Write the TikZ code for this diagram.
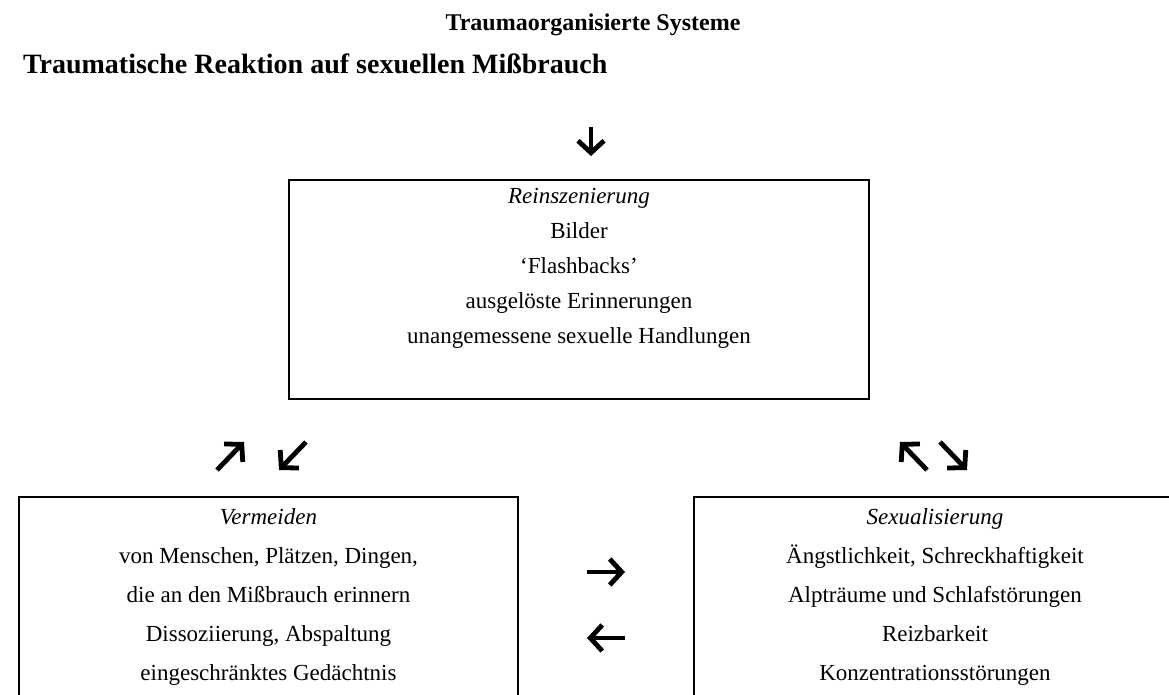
\documentclass[tikz,border=0pt]{standalone}
\usepackage{fontspec}
\setmainfont{Liberation Serif}
\usetikzlibrary{arrows.meta,positioning}

\begin{document}
\begin{tikzpicture}[x=0.5pt, y=-0.5pt,
    kasten/.style = {draw, line width=1pt, inner sep=0pt},
    zeilen/.style = {align=center, inner sep=0pt,
      font=\fontsize{11.5}{17.5}\selectfont},
    unten/.style = {align=center, inner sep=0pt,
      font=\fontsize{11.5}{19.5}\selectfont},
    pfeil/.style = {line width=2.4pt,
      -{Straight Barb[length=6pt, width=13pt, line width=2.4pt]}}]
  \useasboundingbox (0,0) rectangle (1169,695);
  \node[font=\bfseries\fontsize{12}{14}\selectfont] (titel) at (593,25)
    {Traumaorganisierte Systeme};
  \node[font=\bfseries\fontsize{14}{16}\selectfont, anchor=west] (reaktion)
    at (16,64) {Traumatische Reaktion auf sexuellen Mißbrauch};

  % Kaesten
  \node[kasten, anchor=north west, minimum width=290pt, minimum height=109.5pt]
    (rein) at (288,179) {};
  \node[kasten, anchor=north west, minimum width=249.5pt, minimum height=120pt]
    (vermeiden) at (18,496) {};
  \node[kasten, anchor=north west, minimum width=241pt, minimum height=120pt]
    (sexual) at (693,496) {};

  \node[zeilen, below=4.5pt of rein.north] (reintext)
    {\textit{Reinszenierung}\\Bilder\\`Flashbacks'\\ausgelöste Erinnerungen\\
     unangemessene sexuelle Handlungen};
  \node[unten, below=6pt of vermeiden.north] (vermtext)
    {\textit{Vermeiden}\\von Menschen, Plätzen, Dingen,\\
     die an den Mißbrauch erinnern\\Dissoziierung, Abspaltung\\
     eingeschränktes Gedächtnis};
  \node[unten, below=6pt of sexual.north] (sextext)
    {\textit{Sexualisierung}\\Ängstlichkeit, Schreckhaftigkeit\\
     Alpträume und Schlafstörungen\\Reizbarkeit\\Konzentrationsstörungen};

  % Pfeile
  \coordinate (obenA) at (591,127);
  \coordinate (obenB) at (591,156);
  \draw[pfeil] (obenA) -- (obenB);
  \coordinate (hinA) at (217,470);
  \coordinate (hinB) at (244,442);
  \draw[pfeil] (hinA) -- (hinB);
  \coordinate (rueckA) at (306,442);
  \coordinate (rueckB) at (279,470);
  \draw[pfeil] (rueckA) -- (rueckB);
  \coordinate (hochA) at (927,470);
  \coordinate (hochB) at (900,442);
  \draw[pfeil] (hochA) -- (hochB);
  \coordinate (runterA) at (940,442);
  \coordinate (runterB) at (967,470);
  \draw[pfeil] (runterA) -- (runterB);
  \coordinate (rechtsA) at (587,572);
  \coordinate (rechtsB) at (625,572);
  \draw[pfeil] (rechtsA) -- (rechtsB);
  \coordinate (linksA) at (625,638);
  \coordinate (linksB) at (587,638);
  \draw[pfeil] (linksA) -- (linksB);
\end{tikzpicture}
\end{document}
